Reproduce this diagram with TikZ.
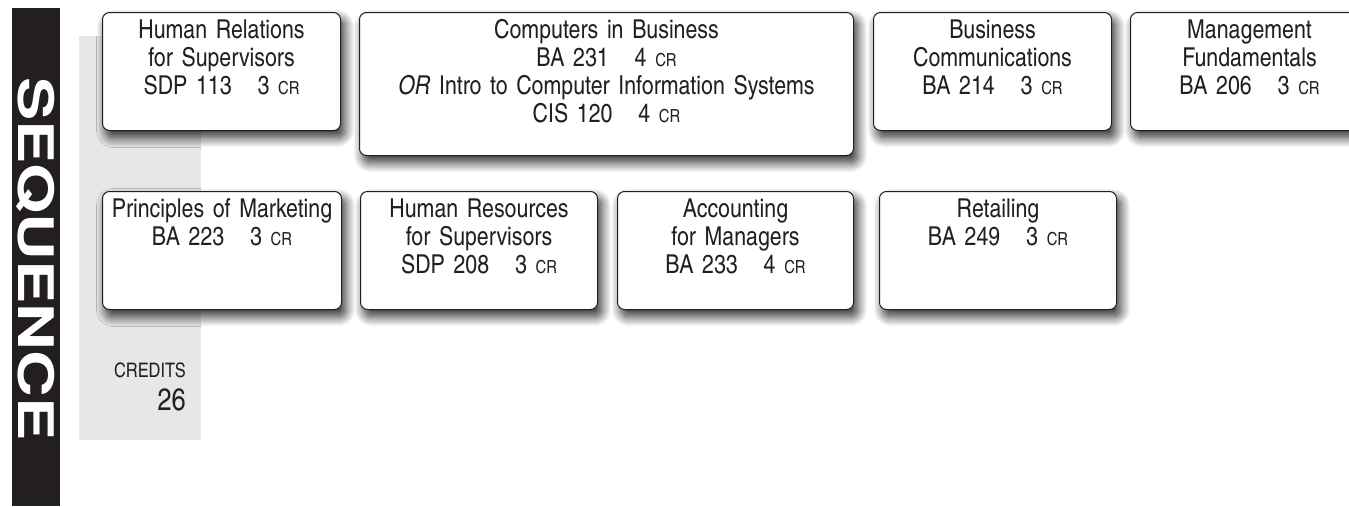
\documentclass[tikz,border=0pt]{standalone}
\usepackage{fontspec}
\setmainfont{texgyreheroscn}[Extension=.otf,UprightFont=*-regular,ItalicFont=*-italic,BoldFont=*-bold]
\newfontfamily\barfont{texgyreheros}[Extension=.otf,UprightFont=*-bold]
\usetikzlibrary{shadows.blur}
\definecolor{ink}{HTML}{231F20}
\definecolor{panel}{HTML}{E6E7E8}
\newcommand\cred[1]{#1 {\fontsize{18}{18}\selectfont CR}}
\tikzset{course/.style={draw=ink, line width=1pt, rounded corners=7pt, fill=white,
    anchor=north west, inner sep=0pt, text width=#1, align=center, text height=26pt,
    text=ink, font=\fontsize{26}{28}\selectfont,
    blur shadow={shadow xshift=4pt, shadow yshift=-7pt, shadow blur radius=10pt,
      shadow blur steps=16, shadow opacity=85}}}
\begin{document}
\begin{tikzpicture}[x=1pt,y=-1pt]
\useasboundingbox (0,0) rectangle (1349,506);
% side bar and credits panel
\fill[panel] (79,36) rectangle (201,440);
\fill[ink] (12,8) rectangle (60,506);
\node[rotate=-90, text=white, font=\barfont\fontsize{49}{49}\selectfont] (seq) at (36,259) {\scalebox{1.32}[1]{SEQUENCE}};
% first row
\node[course=238pt, text depth=92pt] (hr) at (102,12) {Human Relations\\for Supervisors\\SDP 113\quad\cred{3}};
\node[course=494pt, text depth=117pt] (cb) at (359,12) {Computers in Business\\BA 231\quad\cred{4}\\\textit{OR} Intro to Computer Information Systems\\CIS 120\quad\cred{4}};
\node[course=238pt, text depth=92pt] (bc) at (873,12) {Business\\Communications\\BA 214\quad\cred{3}};
\node[course=238pt, text depth=92pt] (mf) at (1130,12) {Management\\Fundamentals\\BA 206\quad\cred{3}};
% second row
\node[course=239pt, text depth=92pt] (pm) at (102,191) {Principles of Marketing\\BA 223\quad\cred{3}};
\node[course=237pt, text depth=92pt] (hs) at (360,191) {Human Resources\\for Supervisors\\SDP 208\quad\cred{3}};
\node[course=236pt, text depth=92pt] (am) at (617,191) {Accounting\\for Managers\\BA 233\quad\cred{4}};
\node[course=237pt, text depth=92pt] (rt) at (879,191) {Retailing\\BA 249\quad\cred{3}};
% total
\node[anchor=base east, inner sep=0pt, text=ink, font=\fontsize{20}{20}\selectfont] (crlabel) at (186,377) {CREDITS};
\node[anchor=base east, inner sep=0pt, text=ink, font=\fontsize{31}{31}\selectfont] (crtotal) at (186,410) {26};
\end{tikzpicture}
\end{document}
